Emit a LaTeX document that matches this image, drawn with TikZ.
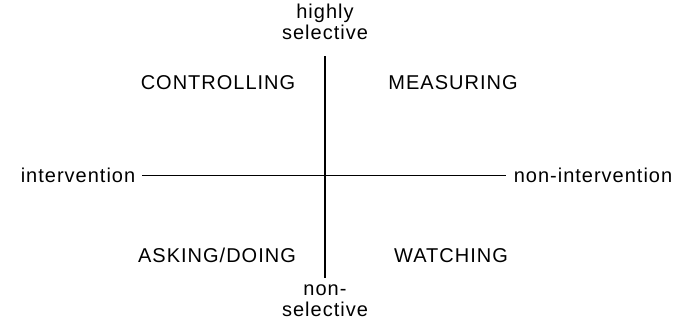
\documentclass[tikz,border=0pt]{standalone}
\usepackage{fontspec}
\setmainfont{Liberation Sans}[LetterSpace=5]
\begin{document}
\begin{tikzpicture}[x=1pt,y=-1pt,font=\fontsize{20}{21}\selectfont]
  \useasboundingbox (0,0) rectangle (678,326);
  % axis labels
  \node[align=center,inner sep=0pt] (hsel) at (325,22) {highly\\selective};
  \node[align=center,inner sep=0pt] (nsel) at (325,300.5) {non-\\selective};
  \node[anchor=base,inner sep=0pt] (intv) at (78,182.5) {intervention};
  \node[anchor=base,inner sep=0pt] (nonintv) at (593,182.5) {non-intervention};
  % quadrants
  \node[anchor=base] (ctrl) at (218,89.5) {CONTROLLING};
  \node[anchor=base] (meas) at (453,89.5) {MEASURING};
  \node[anchor=base] (ask) at (217,262) {ASKING/DOING};
  \node[anchor=base] (watch) at (451,262) {WATCHING};
  % axes
  \draw[line width=1.2pt,shorten <=16pt,shorten >=6.75pt] (hsel.south) -- (nsel.north);
  \draw[line width=1.2pt,shorten <=7pt,shorten >=8pt] (intv.east) -- (nonintv.west);
\end{tikzpicture}
\end{document}
